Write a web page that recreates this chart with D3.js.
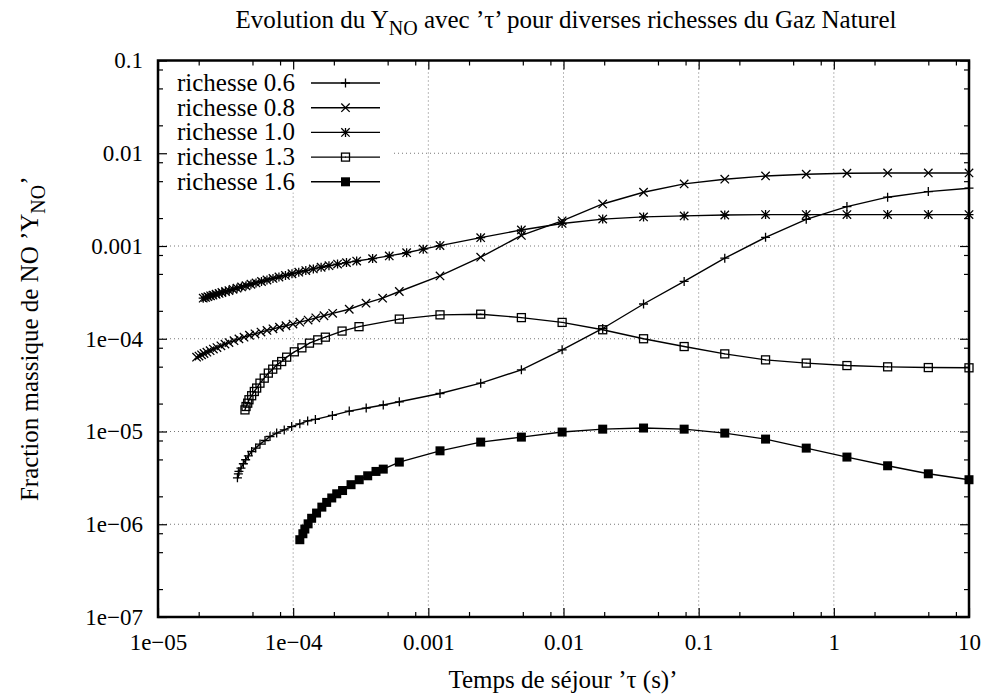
<!DOCTYPE html>
<html><head><meta charset="utf-8">
<script src="https://cdn.jsdelivr.net/npm/d3@7"></script>
<style>
body{margin:0;background:#fff}
text{font-family:"Liberation Serif","Times New Roman",serif;fill:#000}
</style>
</head><body><svg id="c" width="987" height="694"></svg>
<script>
// ---------- data ----------
const seriesNames = ["richesse 0.6","richesse 0.8","richesse 1.0","richesse 1.3","richesse 1.6"];

const tau06 = [3.87e-5,3.93e-5,3.97e-5,4.11e-5,4.28e-5,4.45e-5,4.66e-5,4.93e-5,5.28e-5,5.68e-5,6.19e-5,6.74e-5,7.55e-5,8.59e-5,9.75e-5,1.12e-4,1.28e-4,1.46e-4,1.95e-4,2.60e-4,3.47e-4,4.64e-4,6.10e-4,1.22e-3,2.44e-3,4.88e-3,9.77e-3,0.0195,0.0391,0.0781,0.156,0.3125,0.625,1.25,2.5,5,10];
const y06   = [3.17e-6,3.50e-6,3.71e-6,4.03e-6,4.49e-6,4.96e-6,5.47e-6,6.09e-6,6.62e-6,7.31e-6,8.0e-6,8.83e-6,9.61e-6,1.04e-5,1.13e-5,1.21e-5,1.30e-5,1.35e-5,1.49e-5,1.66e-5,1.79e-5,1.93e-5,2.09e-5,2.57e-5,3.32e-5,4.62e-5,7.59e-5,1.29e-4,2.37e-4,4.15e-4,7.39e-4,1.24e-3,1.94e-3,2.66e-3,3.36e-3,3.86e-3,4.20e-3];

const tau08 = [1.93e-5,2.01e-5,2.10e-5,2.19e-5,2.30e-5,2.43e-5,2.57e-5,2.73e-5,2.92e-5,3.13e-5,3.35e-5,3.65e-5,3.97e-5,4.33e-5,4.75e-5,5.22e-5,5.78e-5,6.40e-5,7.09e-5,7.92e-5,8.85e-5,9.97e-5,1.12e-4,1.29e-4,1.47e-4,1.69e-4,1.96e-4,2.60e-4,3.46e-4,4.59e-4,6.10e-4,1.22e-3,2.44e-3,4.88e-3,9.77e-3,0.0195,0.0391,0.0781,0.156,0.3125,0.625,1.25,2.5,5,10];
const y08   = [6.33e-5,6.51e-5,6.71e-5,6.93e-5,7.17e-5,7.44e-5,7.74e-5,8.04e-5,8.39e-5,8.75e-5,9.10e-5,9.54e-5,9.97e-5,1.04e-4,1.09e-4,1.13e-4,1.18e-4,1.23e-4,1.28e-4,1.33e-4,1.38e-4,1.44e-4,1.51e-4,1.59e-4,1.68e-4,1.77e-4,1.88e-4,2.08e-4,2.42e-4,2.74e-4,3.23e-4,4.76e-4,7.57e-4,1.30e-3,1.87e-3,2.84e-3,3.80e-3,4.67e-3,5.25e-3,5.69e-3,5.94e-3,6.09e-3,6.13e-3,6.13e-3,6.13e-3];

const tau10 = [2.16e-5,2.25e-5,2.34e-5,2.45e-5,2.55e-5,2.69e-5,2.83e-5,2.97e-5,3.16e-5,3.35e-5,3.59e-5,3.84e-5,4.15e-5,4.48e-5,4.87e-5,5.31e-5,5.83e-5,6.40e-5,7.09e-5,7.85e-5,8.77e-5,9.80e-5,1.10e-4,1.24e-4,1.41e-4,1.61e-4,1.84e-4,2.13e-4,2.48e-4,2.95e-4,3.87e-4,5.14e-4,6.91e-4,9.17e-4,1.22e-3,2.44e-3,4.88e-3,9.77e-3,0.0195,0.0391,0.0781,0.156,0.3125,0.625,1.25,2.5,5,10];
const y10   = [2.74e-4,2.79e-4,2.84e-4,2.90e-4,2.95e-4,3.02e-4,3.08e-4,3.15e-4,3.23e-4,3.31e-4,3.41e-4,3.51e-4,3.62e-4,3.73e-4,3.87e-4,4.00e-4,4.14e-4,4.30e-4,4.47e-4,4.63e-4,4.82e-4,5.02e-4,5.22e-4,5.43e-4,5.66e-4,5.90e-4,6.13e-4,6.38e-4,6.62e-4,6.88e-4,7.31e-4,7.82e-4,8.47e-4,9.24e-4,1.01e-3,1.23e-3,1.49e-3,1.75e-3,1.95e-3,2.06e-3,2.11e-3,2.16e-3,2.18e-3,2.18e-3,2.18e-3,2.18e-3,2.18e-3,2.18e-3];

const tau13 = [4.40e-5,4.48e-5,4.61e-5,4.71e-5,4.93e-5,5.16e-5,5.37e-5,5.68e-5,6.11e-5,6.55e-5,7.06e-5,7.55e-5,8.22e-5,8.95e-5,1.02e-4,1.16e-4,1.32e-4,1.52e-4,1.73e-4,2.30e-4,3.07e-4,6.10e-4,1.22e-3,2.44e-3,4.88e-3,9.77e-3,0.0195,0.0391,0.0781,0.156,0.3125,0.625,1.25,2.5,5,10];
const y13   = [1.71e-5,1.86e-5,2.02e-5,2.20e-5,2.43e-5,2.70e-5,2.94e-5,3.32e-5,3.76e-5,4.26e-5,4.70e-5,5.23e-5,5.68e-5,6.33e-5,7.23e-5,7.98e-5,8.97e-5,9.73e-5,1.04e-4,1.21e-4,1.35e-4,1.63e-4,1.81e-4,1.84e-4,1.69e-4,1.50e-4,1.25e-4,1.00e-4,8.24e-5,6.87e-5,5.92e-5,5.46e-5,5.14e-5,4.98e-5,4.89e-5,4.86e-5];

const tau16 = [1.12e-4,1.18e-4,1.22e-4,1.29e-4,1.37e-4,1.49e-4,1.63e-4,1.77e-4,1.93e-4,2.10e-4,2.32e-4,2.68e-4,3.08e-4,3.56e-4,4.10e-4,4.64e-4,6.10e-4,1.22e-3,2.44e-3,4.88e-3,9.77e-3,0.0195,0.0391,0.0781,0.156,0.3125,0.625,1.25,2.5,5,10];
const y16   = [6.81e-7,7.90e-7,8.88e-7,1.01e-6,1.16e-6,1.32e-6,1.53e-6,1.72e-6,1.92e-6,2.13e-6,2.31e-6,2.67e-6,3.02e-6,3.33e-6,3.71e-6,3.93e-6,4.68e-6,6.19e-6,7.69e-6,8.70e-6,9.86e-6,1.06e-5,1.09e-5,1.06e-5,9.61e-6,8.28e-6,6.62e-6,5.30e-6,4.27e-6,3.50e-6,3.02e-6];

const xTickValues = [1e-5,1e-4,1e-3,1e-2,1e-1,1,10];
const xTickLabels = ["1e\u221205","1e\u221204","0.001","0.01","0.1","1","10"];
const yTickValues = [1e-7,1e-6,1e-5,1e-4,1e-3,1e-2,1e-1];
const yTickLabels = ["1e\u221207","1e\u221206","1e\u221205","1e\u221204","0.001","0.01","0.1"];
const minorMult = [2,5,8];

// ---------- layout ----------
const L=158, R=969, T=60.5, B=617;
const FS = 25, TFS = 23;
const svg = d3.select("#c");
const x = d3.scaleLog().domain([1e-5,10]).range([L,R]);
const y = d3.scaleLog().domain([1e-7,0.1]).range([B,T]);

const minorX = [], minorY = [];
xTickValues.slice(0,-1).forEach(v=>minorMult.forEach(m=>minorX.push(v*m)));
yTickValues.slice(0,-1).forEach(v=>minorMult.forEach(m=>minorY.push(v*m)));

// grid
const grid = svg.append("g").attr("stroke","#777").attr("stroke-width",1).attr("stroke-dasharray","1,3");
xTickValues.slice(1,-1).forEach(v=>grid.append("line").attr("x1",x(v)).attr("x2",x(v)).attr("y1",T).attr("y2",B));
yTickValues.slice(1,-1).forEach(v=>grid.append("line").attr("y1",y(v)).attr("y2",y(v)).attr("x1",L).attr("x2",R));

// legend background (hides grid)
svg.append("rect").attr("x",L+1).attr("y",T+1).attr("width",233).attr("height",131).attr("fill","#fff");

// axes
function styleAxis(g){ g.select(".domain").remove(); g.selectAll(".tick line").attr("stroke","#000").attr("stroke-width",1.2);
  g.selectAll("text").attr("font-size",TFS).attr("fill","#000").attr("font-family","Liberation Serif, serif"); }
svg.append("g").attr("transform",`translate(${L},0)`)
  .call(d3.axisLeft(y).tickValues(yTickValues).tickFormat((d,i)=>yTickLabels[i]).tickSize(-9).tickPadding(15)).call(styleAxis);
svg.append("g").attr("transform",`translate(${L},0)`)
  .call(d3.axisLeft(y).tickValues(minorY).tickFormat("").tickSize(-5)).call(styleAxis);
svg.append("g").attr("transform",`translate(${R},0)`)
  .call(d3.axisRight(y).tickValues(yTickValues).tickFormat("").tickSize(-9)).call(styleAxis);
svg.append("g").attr("transform",`translate(${R},0)`)
  .call(d3.axisRight(y).tickValues(minorY).tickFormat("").tickSize(-5)).call(styleAxis);
svg.append("g").attr("transform",`translate(0,${B})`)
  .call(d3.axisBottom(x).tickValues(xTickValues).tickFormat((d,i)=>xTickLabels[i]).tickSize(-9).tickPadding(17)).call(styleAxis);
svg.append("g").attr("transform",`translate(0,${B})`)
  .call(d3.axisBottom(x).tickValues(minorX).tickFormat("").tickSize(-5)).call(styleAxis);
svg.append("g").attr("transform",`translate(0,${T})`)
  .call(d3.axisTop(x).tickValues(xTickValues).tickFormat("").tickSize(-9)).call(styleAxis);
svg.append("g").attr("transform",`translate(0,${T})`)
  .call(d3.axisTop(x).tickValues(minorX).tickFormat("").tickSize(-5)).call(styleAxis);

// border
svg.append("rect").attr("x",L).attr("y",T).attr("width",R-L).attr("height",B-T)
  .attr("fill","none").attr("stroke","#000").attr("stroke-width",2.5);

// markers
function drawMarker(g, type){
  const s=4.5;
  if(type==="plus"){ g.append("path").attr("d",`M${-s},0H${s}M0,${-s}V${s}`).attr("stroke","#000").attr("stroke-width",1.3).attr("fill","none"); }
  else if(type==="cross"){ const c=4.2; g.append("path").attr("d",`M${-c},${-c}L${c},${c}M${-c},${c}L${c},${-c}`).attr("stroke","#000").attr("stroke-width",1.3).attr("fill","none"); }
  else if(type==="star"){ const c=4.2; g.append("path").attr("d",`M${-s},0H${s}M0,${-s}V${s}M${-c},${-c}L${c},${c}M${-c},${c}L${c},${-c}`).attr("stroke","#000").attr("stroke-width",1.3).attr("fill","none"); }
  else if(type==="box"){ g.append("rect").attr("x",-4).attr("y",-4).attr("width",8).attr("height",8).attr("fill","none").attr("stroke","#000").attr("stroke-width",1.3);
    g.append("rect").attr("x",-0.5).attr("y",-0.5).attr("width",1).attr("height",1).attr("fill","#000"); }
  else if(type==="fbox"){ g.append("rect").attr("x",-4.5).attr("y",-4.5).attr("width",9).attr("height",9).attr("fill","#000"); }
}

const series = [
  {name:seriesNames[0], t:tau06, v:y06, m:"plus"},
  {name:seriesNames[1], t:tau08, v:y08, m:"cross"},
  {name:seriesNames[2], t:tau10, v:y10, m:"star"},
  {name:seriesNames[3], t:tau13, v:y13, m:"box"},
  {name:seriesNames[4], t:tau16, v:y16, m:"fbox"}
];
const line = d3.line().x(d=>x(d[0])).y(d=>y(d[1]));
series.forEach(s=>{
  const pts = s.t.map((t,i)=>[t,s.v[i]]);
  svg.append("path").attr("d",line(pts)).attr("fill","none").attr("stroke","#000").attr("stroke-width",1.4);
  pts.forEach(p=>{ const g=svg.append("g").attr("transform",`translate(${x(p[0])},${y(p[1])})`); drawMarker(g,s.m); });
});

// legend
series.forEach((s,i)=>{
  const cy = 83 + i*24.7;
  svg.append("text").attr("x",295).attr("y",cy+8).attr("text-anchor","end").attr("font-size",FS).text(s.name);
  svg.append("line").attr("x1",311).attr("x2",380).attr("y1",cy).attr("y2",cy).attr("stroke","#000").attr("stroke-width",1.4);
  const g=svg.append("g").attr("transform",`translate(345.5,${cy})`); drawMarker(g,s.m);
});

// title
const title = svg.append("text").attr("x",566).attr("y",28).attr("text-anchor","middle").attr("font-size",FS);
title.append("tspan").text("Evolution du Y");
title.append("tspan").attr("dy",7).attr("font-size",20).text("NO");
title.append("tspan").attr("dy",-7).text(" avec \u2019\u03c4\u2019 pour diverses richesses du Gaz Naturel");

// x label
svg.append("text").attr("x",563).attr("y",688).attr("text-anchor","middle").attr("font-size",FS)
  .text("Temps de s\u00e9jour \u2019\u03c4 (s)\u2019");

// y label
const yl = svg.append("text").attr("transform",`translate(38,${(T+B)/2}) rotate(-90)`).attr("text-anchor","middle").attr("font-size",FS);
yl.append("tspan").text("Fraction massique de NO \u2019Y");
yl.append("tspan").attr("dy",7).attr("font-size",20).text("NO");
yl.append("tspan").attr("dy",-7).text("\u2019");
</script>
</body></html>
